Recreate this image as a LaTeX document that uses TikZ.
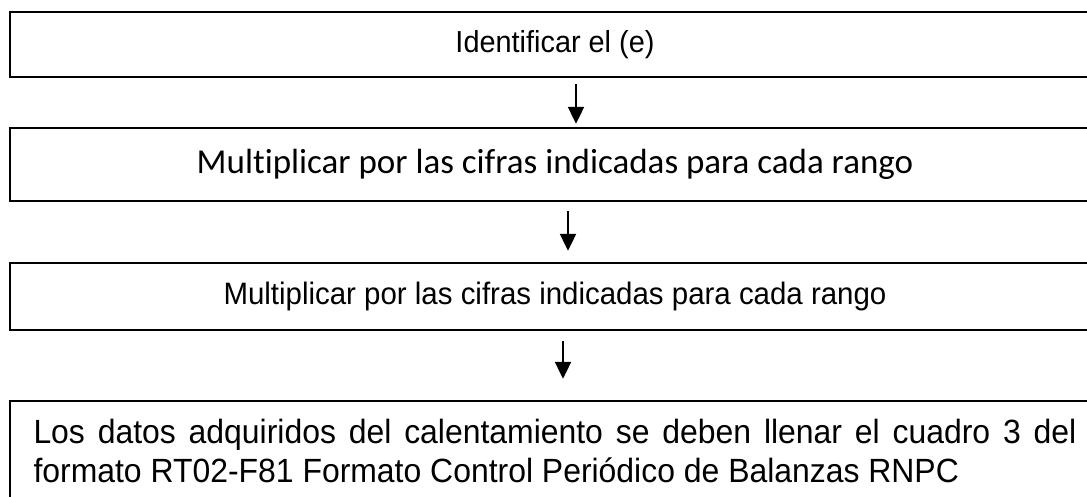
\documentclass[tikz,border=0pt]{standalone}
\usepackage{fontspec}
\usetikzlibrary{arrows.meta}
\newfontfamily\arialf[FakeStretch=0.95]{Liberation Sans}
\newfontfamily\calibrif[Ligatures=NoCommon]{Carlito}
\begin{document}
\begin{tikzpicture}[x=0.5pt,y=-0.5pt,
    caja/.style={draw,line width=1.2pt,minimum width=545pt,inner sep=0pt},
    flecha/.style={-{Triangle[length=8.5pt,width=8pt]},line width=1.1pt}]
        \useasboundingbox (0,0) rectangle (1087,497);
        \clip (0,0) rectangle (1087,497);
        \node [caja,minimum height=32.5pt] (b1) at (555,44.5) {\arialf\fontsize{15.2}{18}\selectfont Identificar el (e)};
        \node [caja,minimum height=36.5pt] (b2) at (555,164.5) {\calibrif\fontsize{17.5}{21}\selectfont Multiplicar por las cifras indicadas para cada rango};
        \node [caja,minimum height=33.5pt] (b3) at (555,296.5) {\arialf\fontsize{15.5}{18}\selectfont Multiplicar por las cifras indicadas para cada rango};
        \node [caja,minimum height=50pt] (b4) at (555,451) {\parbox{521.5pt}{\arialf\fontsize{16.8}{19.5}\selectfont
            \makebox[521.5pt][s]{Los datos adquiridos del calentamiento se deben llenar el cuadro 3 del}\\
            formato RT02-F81 Formato Control Periódico de Balanzas RNPC}};
        \draw [flecha,shorten <=3pt,shorten >=1.5pt] (b1.south -| 576,0) -- (b2.north -| 576,0);
        \draw [flecha,shorten <=4.5pt,shorten >=5.5pt] (b2.south -| 568,0) -- (b3.north -| 568,0);
        \draw [flecha,shorten <=5pt,shorten >=10.5pt] (b3.south -| 563,0) -- (b4.north -| 563,0);
    \end{tikzpicture}
\end{document}
